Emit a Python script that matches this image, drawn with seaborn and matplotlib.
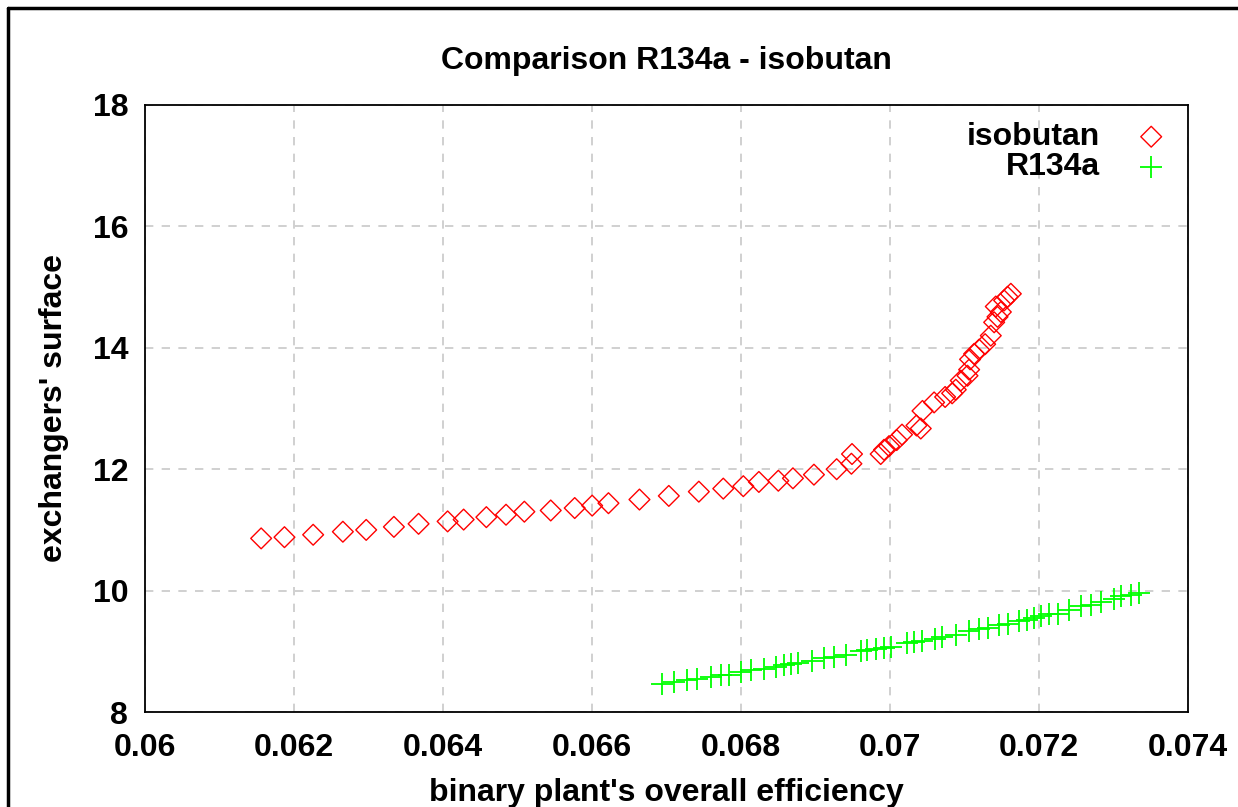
import matplotlib
matplotlib.use("Agg")
import matplotlib.pyplot as plt
from matplotlib.lines import Line2D
import seaborn as sns
import pandas as pd

# ---- data ----
iso_x = [0.061559, 0.061872, 0.062257, 0.062656, 0.062969, 0.063341, 0.063672, 0.064062,
         0.064277, 0.064582, 0.064846, 0.065092, 0.065446, 0.065768, 0.066002, 0.066221,
         0.066637, 0.067031, 0.067434, 0.067762, 0.068031, 0.068240, 0.068501, 0.068697,
         0.068979, 0.069284, 0.069482, 0.069490, 0.069875, 0.069920, 0.069987, 0.070090,
         0.070161, 0.070355, 0.070413, 0.070436, 0.070592, 0.070740, 0.070834, 0.070883,
         0.070950, 0.071040, 0.071062, 0.071075, 0.071129, 0.071196, 0.071277, 0.071353,
         0.071398, 0.071443, 0.071488, 0.071420, 0.071532, 0.071578, 0.071622]
iso_y = [10.86, 10.88, 10.92, 10.97, 11.00, 11.05, 11.10, 11.14,
         11.17, 11.21, 11.25, 11.30, 11.32, 11.36, 11.40, 11.44,
         11.50, 11.56, 11.63, 11.68, 11.72, 11.79, 11.81, 11.85,
         11.91, 12.00, 12.09, 12.25, 12.25, 12.32, 12.38, 12.48,
         12.57, 12.72, 12.67, 12.96, 13.10, 13.19, 13.25, 13.31,
         13.46, 13.54, 13.64, 13.81, 13.90, 13.97, 14.06, 14.20,
         14.42, 14.51, 14.59, 14.68, 14.78, 14.84, 14.89]

r134_x = [0.066942, 0.067098, 0.067278, 0.067413, 0.067601, 0.067726, 0.067837, 0.067994,
          0.068129, 0.068307, 0.068465, 0.068576, 0.068676, 0.068770, 0.068958, 0.069114,
          0.069248, 0.069405, 0.069607, 0.069697, 0.069818, 0.069920, 0.070010, 0.070234,
          0.070323, 0.070436, 0.070601, 0.070704, 0.070883, 0.071062, 0.071196, 0.071309,
          0.071465, 0.071578, 0.071733, 0.071837, 0.071935, 0.072025, 0.072136, 0.072249,
          0.072405, 0.072562, 0.072697, 0.072831, 0.073010, 0.073100, 0.073234, 0.073346]
r134_y = [8.467, 8.495, 8.528, 8.545, 8.578, 8.606, 8.616, 8.660,
          8.693, 8.714, 8.747, 8.770, 8.792, 8.813, 8.842, 8.886,
          8.903, 8.936, 9.002, 9.018, 9.040, 9.056, 9.068, 9.139,
          9.160, 9.172, 9.210, 9.238, 9.271, 9.337, 9.365, 9.381,
          9.436, 9.457, 9.502, 9.523, 9.546, 9.579, 9.612, 9.622,
          9.678, 9.749, 9.766, 9.804, 9.860, 9.903, 9.926, 9.959]

x_ticks = [0.06, 0.062, 0.064, 0.066, 0.068, 0.07, 0.072, 0.074]
x_tick_labels = ["0.06", "0.062", "0.064", "0.066", "0.068", "0.07", "0.072", "0.074"]
y_ticks = [8, 10, 12, 14, 16, 18]
y_tick_labels = ["8", "10", "12", "14", "16", "18"]

title = "Comparison R134a - isobutan"
x_label = "binary plant's overall efficiency"
y_label = "exchangers' surface"

iso_df = pd.DataFrame({"x": iso_x, "y": iso_y})
r134_df = pd.DataFrame({"x": r134_x, "y": r134_y})

# ---- style ----
sns.set_theme(style="white")
plt.rcParams["font.family"] = ["Liberation Sans", "DejaVu Sans"]
plt.rcParams["font.weight"] = "bold"
plt.rcParams["text.color"] = "black"
plt.rcParams["axes.labelcolor"] = "black"
plt.rcParams["xtick.color"] = "black"
plt.rcParams["ytick.color"] = "black"
FS = 23

fig = plt.figure(figsize=(12.38, 8.07), dpi=100)
fig.patch.set_facecolor("white")
ax = fig.add_axes([145 / 1238, 1 - 712 / 807, (1188 - 145) / 1238, (712 - 105) / 807])
ax.set_facecolor("white")

sns.scatterplot(data=iso_df, x="x", y="y", ax=ax, marker="D", s=112,
                facecolor="none", edgecolor="#ff0000", linewidth=1.0,
                label="isobutan", zorder=3)
sns.scatterplot(data=r134_df, x="x", y="y", ax=ax, marker="+", s=230,
                color="#00ff00", linewidth=1.3, label="R134a", zorder=3)

ax.set_xlim(0.06, 0.074)
ax.set_ylim(8, 18)
ax.set_xticks(x_ticks)
ax.set_xticklabels(x_tick_labels, fontsize=FS, fontweight="bold", color="black")
ax.set_yticks(y_ticks)
ax.set_yticklabels(y_tick_labels, fontsize=FS, fontweight="bold", color="black")
ax.tick_params(axis="both", length=0, colors="black")
ax.tick_params(axis="x", pad=15)
ax.tick_params(axis="y", pad=12)

ax.grid(True, color="#c8c8c8", linestyle=(0, (5, 5)), linewidth=1.2)
for sp in ax.spines.values():
    sp.set_visible(True)
    sp.set_color("black")
    sp.set_linewidth(1.3)

ax.set_title(title, fontsize=FS, fontweight="bold", pad=26, color="black")
ax.set_xlabel(x_label, fontsize=FS, fontweight="bold", labelpad=11, color="black")
ax.set_ylabel(y_label, fontsize=FS, fontweight="bold", labelpad=17, color="black")

leg = ax.legend(loc="upper right", bbox_to_anchor=(1.003, 0.985), frameon=False,
                markerfirst=False, prop={"size": FS, "weight": "bold"},
                borderaxespad=0.0, borderpad=0.25, labelspacing=0.0,
                handletextpad=0.6, handlelength=2.0)
for t in leg.get_texts():
    t.set_color("black")

# outer frame (top and left edges, as in the cropped reference)
fig.add_artist(Line2D([8 / 1238, 1], [1 - 8 / 807, 1 - 8 / 807],
                      transform=fig.transFigure, color="black", linewidth=2.5))
fig.add_artist(Line2D([8 / 1238, 8 / 1238], [0, 1 - 8 / 807],
                      transform=fig.transFigure, color="black", linewidth=2.5))

fig.savefig("out.png", dpi=100, facecolor="white")
